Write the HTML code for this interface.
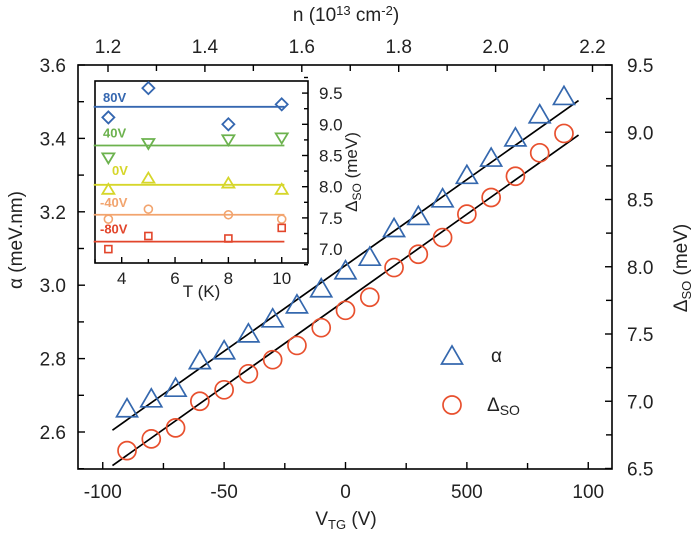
<!DOCTYPE html>
<html><head><meta charset="utf-8">
<style>
html,body{margin:0;padding:0;background:#fff;}
svg{display:block;font-family:"Liberation Sans",Arial,sans-serif;}
</style></head>
<body>
<svg id="chart" width="697" height="534" viewBox="0 0 697 534"></svg>
<script>
// ---- main chart data ----
const vtg = [-90,-80,-70,-60,-50,-40,-30,-20,-10,0,10,20,30,40,50,60,70,80,90];
const alphaVals = [2.658,2.685,2.714,2.789,2.816,2.862,2.903,2.941,2.985,3.034,3.071,3.149,3.182,3.230,3.294,3.341,3.396,3.459,3.509];
const deltaVals = [6.633,6.720,6.802,7.000,7.085,7.204,7.309,7.415,7.547,7.676,7.773,7.994,8.093,8.217,8.391,8.515,8.673,8.847,8.991];
const alphaFitX = [-96,96];
const alphaFitY = [2.605,3.503];
const deltaFitX = [-96,96];
const deltaFitY = [6.522,8.979];
const bottomTicks = [-100,-50,0,50,100];
const bottomTickLabels = ["-100","-50","0","500","100"];
const topTicks = [1.2,1.4,1.6,1.8,2.0,2.2];
const leftTicks = [2.6,2.8,3.0,3.2,3.4,3.6];
const rightTicks = [6.5,7.0,7.5,8.0,8.5,9.0,9.5];
// ---- inset data ----
const insetT = [3.5,5,8,10];
const insetSeriesNames = ["80V","40V","0V","-40V","-80V"];
const inset80 = [9.11,9.58,9.00,9.32];
const inset40 = [8.47,8.70,8.76,8.79];
const inset0 = [7.95,8.13,8.05,7.95];
const insetM40 = [7.48,7.64,7.55,7.48];
const insetM80 = [7.00,7.21,7.17,7.34];
const insetMeans = [9.28,8.66,8.03,7.55,7.12];
const insetTTicks = [4,6,8,10];
const insetYTicks = [7.0,7.5,8.0,8.5,9.0,9.5];

const NS="http://www.w3.org/2000/svg";
const svg=document.getElementById('chart');
function mk(tag,attrs,parent){const e=document.createElementNS(NS,tag);for(const k in attrs)e.setAttribute(k,attrs[k]);(parent||svg).appendChild(e);return e;}

const L=78,R=612,T=65,B=469;
const xs=v=>345.5+v*2.4275;
const xn=n=>108+(n-1.2)*484.5;
const ya=v=>65+(3.6-v)*367;
const yd=v=>65+(9.5-v)*134.5;

const axes=mk('g',{});


const frame=mk('rect',{x:L,y:T,width:R-L,height:B-T,fill:'none',stroke:'#000','stroke-width':1.6},axes);



function tick(x1,y1,x2,y2,g){mk('line',{x1,y1,x2,y2,stroke:'#000','stroke-width':1.4},g);}
function label(x,y,txt,anchor,g,size){const t=mk('text',{x,y,'text-anchor':anchor,'font-size':size||19,fill:'#222'},g);t.textContent=txt;return t;}

const gb=mk('g',{},axes);


bottomTicks.forEach((v,i)=>{
  tick(xs(v),B,xs(v),B-7,gb);
  const t=label(xs(v),B+29,bottomTickLabels[i],'middle',gb);
  
  
  if(i<bottomTicks.length-1){const m=(v+bottomTicks[i+1])/2;tick(xs(m),B,xs(m),B-6,gb);}
});
const gt=mk('g',{},axes);


topTicks.forEach((v,i)=>{
  tick(xn(v),T,xn(v),T+7,gt);
  const t=label(xn(v),T-12,v.toFixed(1),'middle',gt);
  
  
  if(i<topTicks.length-1){const m=v+0.1;tick(xn(m),T,xn(m),T+6,gt);}
});
const gl=mk('g',{},axes);


leftTicks.forEach((v,i)=>{
  tick(L,ya(v),L+7,ya(v),gl);
  const t=label(L-12,ya(v)+7,v.toFixed(1),'end',gl);
  
  
  const m=v-0.1; if(ya(m)<B) tick(L,ya(m),L+6,ya(m),gl);
});
const gr=mk('g',{},axes);


rightTicks.forEach((v,i)=>{
  tick(R,yd(v),R-7,yd(v),gr);
  const t=label(R+15,yd(v)+7,v.toFixed(1),'start',gr);
  
  
  if(i<rightTicks.length-1){const m=v+0.25;tick(R,yd(m),R-6,yd(m),gr);}
});

const xt=mk('text',{x:346,y:525,'text-anchor':'middle','font-size':19,fill:'#222'});
xt.innerHTML='V<tspan font-size="13" dy="4">TG</tspan><tspan dy="-4"> (V)</tspan>';


const tt=mk('text',{x:346,y:21,'text-anchor':'middle','font-size':19,fill:'#222'});
tt.innerHTML='n (10<tspan font-size="13" dy="-6">13</tspan><tspan dy="6"> cm</tspan><tspan font-size="13" dy="-6">-2</tspan><tspan dy="6">)</tspan>';


const lt=mk('text',{x:0,y:0,'text-anchor':'middle','font-size':19,fill:'#222',transform:'translate(22,240) rotate(-90)'});
lt.textContent='α (meV.nm)';


const rt=mk('text',{x:0,y:0,'text-anchor':'middle','font-size':19,fill:'#222',transform:'translate(687,268) rotate(-90)'});
rt.innerHTML='Δ<tspan font-size="13" dy="4">SO</tspan><tspan dy="-4"> (meV)</tspan>';



const BLUE='#3568ae', RED='#e8502e';
function triUp(cx,cy,s,col,g){const h=s*0.86;return mk('polygon',{points:`${cx-s/2},${cy+h/3} ${cx+s/2},${cy+h/3} ${cx},${cy-2*h/3}`,fill:'none',stroke:col,'stroke-width':1.7},g);}

const fa=mk('line',{x1:xs(alphaFitX[0]),y1:ya(alphaFitY[0]),x2:xs(alphaFitX[1]),y2:ya(alphaFitY[1]),stroke:'#000','stroke-width':1.7});


const fd=mk('line',{x1:xs(deltaFitX[0]),y1:yd(deltaFitY[0]),x2:xs(deltaFitX[1]),y2:yd(deltaFitY[1]),stroke:'#000','stroke-width':1.7});



const ga=mk('g',{});


vtg.forEach((v,i)=>{
  const p=triUp(xs(v),ya(alphaVals[i]),21,BLUE,ga);
  
  
});
const gd=mk('g',{});


vtg.forEach((v,i)=>{
  const c=mk('circle',{cx:xs(v),cy:yd(deltaVals[i]),r:9,fill:'none',stroke:RED,'stroke-width':1.7},gd);
  
  
});

const lg=mk('g',{});


const le1=mk('g',{},lg);


triUp(452,358,21,BLUE,le1);
label(491,362,'α','start',le1,19);
const le2=mk('g',{},lg);


mk('circle',{cx:452,cy:405,r:9,fill:'none',stroke:RED,'stroke-width':1.7},le2);
const ldt=mk('text',{x:487,y:411,'font-size':19,fill:'#222'},le2);
ldt.innerHTML='Δ<tspan font-size="14" dy="4">SO</tspan>';

// ---- inset ----
const IL=95,IR=308,IT=81,IB=263;
const xT=t=>121.7+(t-4)*26.67;
const yI=v=>186.7-(v-8)*62.4;
const gi=mk('g',{});


mk('rect',{x:IL,y:IT,width:IR-IL,height:IB-IT,fill:'#fff',stroke:'#000','stroke-width':1.6},gi);
insetTTicks.forEach((t,i)=>{
  tick(xT(t),IB,xT(t),IB-6,gi);
  const l=label(xT(t),IB+21,String(t),'middle',gi,17);
  
  
  if(i<insetTTicks.length-1)tick(xT(t+1),IB,xT(t+1),IB-4,gi);
});
tick(xT(3),IB,xT(3),IB-4,gi);
insetYTicks.forEach((v,i)=>{
  tick(IR,yI(v),IR-6,yI(v),gi);
  const l=label(IR+11,yI(v)+6,v.toFixed(1),'start',gi,17);
  
  
  tick(IR,yI(v+0.25),IR-4,yI(v+0.25),gi);
});
tick(IR,yI(6.75),IR-4,yI(6.75),gi);
const ixt=label((IL+IR)/2,297,'T (K)','middle',gi,17);


const iyt=mk('text',{x:0,y:0,'text-anchor':'middle','font-size':17,fill:'#222',transform:'translate(357,172) rotate(-90)'},gi);
iyt.innerHTML='Δ<tspan font-size="12" dy="4">SO</tspan><tspan dy="-4"> (meV)</tspan>';



const insetData=[inset80,inset40,inset0,insetM40,insetM80];
const insetColors=['#3567b0','#6cb24e','#d6d62a','#f2a46e','#e2452b'];
const insetLabelX=[103,103,112,100,100];
const insetLabelDy=[-5,-8,-10,-8,-8];
insetData.forEach((arr,si)=>{
  const col=insetColors[si];
  const gs=mk('g',{},gi);
  
  
  const ln=mk('line',{x1:xT(2.95),x2:xT(10.1),y1:yI(insetMeans[si]),y2:yI(insetMeans[si]),stroke:col,'stroke-width':1.8},gs);
  
  
  const tl=mk('text',{x:insetLabelX[si],y:yI(insetMeans[si])+insetLabelDy[si],'font-size':13,'font-weight':'bold',fill:col},gs);
  tl.textContent=insetSeriesNames[si];
  
  
  insetT.forEach((t,i)=>{
    const cx=xT(t),cy=yI(arr[i]);let m;
    if(si===0) m=mk('polygon',{points:`${cx},${cy-6} ${cx+6},${cy} ${cx},${cy+6} ${cx-6},${cy}`,fill:'none',stroke:col,'stroke-width':1.8},gs);
    else if(si===1) m=mk('polygon',{points:`${cx-6},${cy-4} ${cx+6},${cy-4} ${cx},${cy+6}`,fill:'none',stroke:col,'stroke-width':1.8},gs);
    else if(si===2) m=mk('polygon',{points:`${cx-6},${cy+4} ${cx+6},${cy+4} ${cx},${cy-6}`,fill:'none',stroke:col,'stroke-width':1.8},gs);
    else if(si===3) m=mk('circle',{cx,cy,r:4,fill:'none',stroke:col,'stroke-width':1.6},gs);
    else m=mk('rect',{x:cx-3.5,y:cy-3.5,width:7,height:7,fill:'none',stroke:col,'stroke-width':1.6},gs);
    
    
  });
});
</script>
</body></html>
